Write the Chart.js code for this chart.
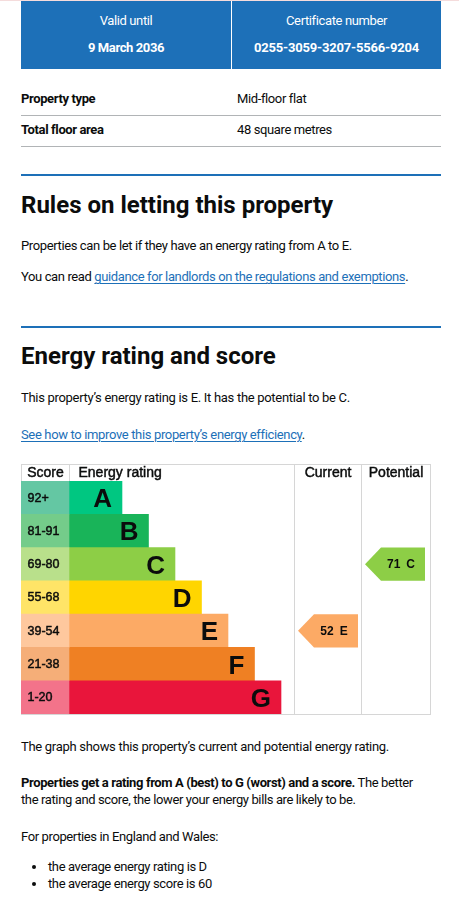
<!DOCTYPE html>
<html><head><meta charset="utf-8">
<script src="https://cdn.jsdelivr.net/npm/chart.js@4.4.1/dist/chart.umd.min.js"></script>
<style>
html,body{margin:0;padding:0;background:#fff;}
body{width:459px;height:924px;position:relative;overflow:hidden;font-family:Roboto,"Noto Sans",sans-serif;color:#0b0c0c;font-size:13px;}
.t{position:absolute;white-space:nowrap;line-height:16px;height:16px;letter-spacing:-0.38px;}
.b{font-weight:700;}
.w{color:#fff;text-align:center;}
a{color:#1d70b8;text-decoration:underline;text-decoration-thickness:1px;text-underline-offset:2px;}
.h2{position:absolute;left:21px;font-weight:700;font-size:24px;line-height:30px;height:30px;white-space:nowrap;}
.rule{position:absolute;left:21px;width:420px;height:2px;background:#1d70b8;}
.hr{position:absolute;left:21px;width:420px;height:1px;background:#b1b4b6;}
.dot{position:absolute;width:4px;height:4px;border-radius:50%;background:#0b0c0c;}
</style></head><body>
<div style="position:absolute;left:0;top:0;width:459px;height:1px;background:#f5dcdc"></div>
<div style="position:absolute;left:21px;top:1px;width:420px;height:68px;background:#1d70b8;"></div>
<div style="position:absolute;left:231px;top:1px;width:1px;height:68px;background:#fff"></div>
<div class="t w" style="left:21px;width:210px;top:13px">Valid until</div>
<div class="t w b" style="left:21px;width:210px;top:40px">9 March 2036</div>
<div class="t w" style="left:232px;width:209px;top:13px">Certificate number</div>
<div class="t w b" style="left:232px;width:209px;top:40px;letter-spacing:-0.2px">0255-3059-3207-5566-9204</div>

<div class="t b" style="left:21px;top:91px">Property type</div>
<div class="t" style="left:237px;top:91px">Mid-floor flat</div>
<div class="hr" style="top:115px"></div>
<div class="t b" style="left:21px;top:122px">Total floor area</div>
<div class="t" style="left:237px;top:122px">48 square metres</div>
<div class="hr" style="top:146px"></div>

<div class="rule" style="top:174px"></div>
<div class="h2" style="top:190px">Rules on letting this property</div>
<div class="t" style="left:21px;top:238px">Properties can be let if they have an energy rating from A to E.</div>
<div class="t" style="left:21px;top:269px">You can read <a>guidance for landlords on the regulations and exemptions</a>.</div>

<div class="rule" style="top:326px"></div>
<div class="h2" style="top:341px">Energy rating and score</div>
<div class="t" style="left:21px;top:390px;letter-spacing:-0.3px">This property’s energy rating is E. It has the potential to be C.</div>
<div class="t" style="left:21px;top:427px;letter-spacing:-0.35px"><a>See how to improve this property’s energy efficiency</a>.</div>

<div id="chartbox" style="position:absolute;left:21px;top:464px;width:410px;height:251px"><canvas id="c"></canvas></div>

<div class="t" style="left:21px;top:739px;letter-spacing:-0.3px">The graph shows this property’s current and potential energy rating.</div>
<div class="t" style="left:21px;top:775px"><span class="b">Properties get a rating from A (best) to G (worst) and a score.</span> The better</div>
<div class="t" style="left:21px;top:792px">the rating and score, the lower your energy bills are likely to be.</div>
<div class="t" style="left:21px;top:829px">For properties in England and Wales:</div>
<div class="dot" style="left:32px;top:865px"></div>
<div class="t" style="left:48px;top:859px">the average energy rating is D</div>
<div class="dot" style="left:32px;top:882px"></div>
<div class="t" style="left:48px;top:876px">the average energy score is 60</div>

<script>
const ratings = ['A','B','C','D','E','F','G'];
const scoreRanges = ['92+','81-91','69-80','55-68','39-54','21-38','1-20'];
const bandMin = [92,81,69,55,39,21,1];
const barLength = [2,3,4,5,6,7,8];
const bandColors = ['#00c781','#19b459','#8dce46','#ffd500','#fcaa65','#ef8023','#e9153b'];
const scoreColors = ['#64c7a3','#74cc8a','#b9e08b','#ffe467','#fec89e','#f5ae78','#f3738a'];
const headers = ['Score','Energy rating','Current','Potential'];
const currentScore = 52;
const potentialScore = 71;
const colEdges = [-1.81, 0, 8.5, 11.02, 13.66];
const gridColor = '#d6d6d6';
const chartFont = '"Liberation Sans", Arial, sans-serif';

function bandOf(score){ return bandMin.findIndex(m => score >= m); }

const epcPlugin = {
  id: 'epc',
  afterDatasetsDraw(chart){
    const {ctx, chartArea: a, scales: {x, y}} = chart;
    const W = chart.width;
    const e = colEdges.map(v => Math.min(Math.round(x.getPixelForValue(v)), W - 1) + 0.5);
    ctx.save();
    ctx.strokeStyle = gridColor; ctx.lineWidth = 1;
    ctx.beginPath();
    ctx.moveTo(e[0] - 0.5, 0.5); ctx.lineTo(e[4] + 0.5, 0.5);
    ctx.moveTo(e[0] - 0.5, a.bottom + 0.5); ctx.lineTo(e[4] + 0.5, a.bottom + 0.5);
    [0, 1].forEach(i => { ctx.moveTo(e[i], 0); ctx.lineTo(e[i], a.top); });
    [2, 3, 4].forEach(i => { ctx.moveTo(e[i], 0); ctx.lineTo(e[i], a.bottom + 1); });
    ctx.stroke();

    const ink = '#0b0c0c';
    ctx.fillStyle = ink; ctx.strokeStyle = ink; ctx.lineWidth = 0.45;
    function heavy(txt, tx, ty){ ctx.fillText(txt, tx, ty); ctx.strokeText(txt, tx, ty); }
    ctx.textBaseline = 'middle';
    ctx.font = '14px ' + chartFont;
    const hy = a.top / 2 + 0.5;
    ctx.textAlign = 'center'; heavy(headers[0], (e[0] + e[1]) / 2, hy);
    ctx.textAlign = 'left'; heavy(headers[1], e[1] + 9, hy);
    ctx.textAlign = 'center'; heavy(headers[2], (e[2] + e[3]) / 2, hy);
    heavy(headers[3], (e[3] + e[4]) / 2, hy);

    const rowH = (a.bottom - a.top) / ratings.length;
    ratings.forEach((r, i) => {
      const cy = y.getPixelForValue(i);
      ctx.textBaseline = 'middle';
      ctx.textAlign = 'left';
      ctx.font = '12.5px ' + chartFont;
      heavy(scoreRanges[i], e[0] + 6, cy + 0.5);
      ctx.textBaseline = 'alphabetic';
      ctx.textAlign = 'right';
      ctx.font = 'bold 26px ' + chartFont;
      ctx.fillText(r, x.getPixelForValue(barLength[i]) - 10, cy + 9.5);
    });

    function arrow(score, col){
      const i = bandOf(score);
      const cy = y.getPixelForValue(i);
      const x0 = e[col] + 3.5, tip = 16, w = 60, h = rowH;
      ctx.fillStyle = bandColors[i];
      ctx.beginPath();
      ctx.moveTo(x0, cy);
      ctx.lineTo(x0 + tip, cy - h / 2);
      ctx.lineTo(x0 + w, cy - h / 2);
      ctx.lineTo(x0 + w, cy + h / 2);
      ctx.lineTo(x0 + tip, cy + h / 2);
      ctx.closePath();
      ctx.fill();
      ctx.fillStyle = ink;
      ctx.font = 'bold 12px ' + chartFont;
      ctx.textBaseline = 'middle';
      const num = String(score), let_ = ratings[i], gap = 6;
      const tw = ctx.measureText(num).width + gap + ctx.measureText(let_).width;
      const cx = (x0 + tip + x0 + w) / 2 - 2;
      ctx.textAlign = 'left';
      ctx.fillText(num, cx - tw / 2, cy + 0.5);
      ctx.fillText(let_, cx + tw / 2 - ctx.measureText(let_).width, cy + 0.5);
    }
    arrow(currentScore, 2);
    arrow(potentialScore, 3);
    ctx.restore();
  }
};

new Chart(document.getElementById('c'), {
  type: 'bar',
  data: {
    labels: ratings,
    datasets: [
      {data: ratings.map(() => [colEdges[0], 0]), backgroundColor: scoreColors, grouped: false, barPercentage: 1, categoryPercentage: 1, borderWidth: 0},
      {data: barLength.map(v => [0, v]), backgroundColor: bandColors, grouped: false, barPercentage: 1, categoryPercentage: 1, borderWidth: 0}
    ]
  },
  options: {
    indexAxis: 'y',
    responsive: true,
    maintainAspectRatio: false,
    animation: false,
    events: [],
    layout: {padding: {top: 17, bottom: 1, left: 0, right: 0}},
    plugins: {legend: {display: false}, tooltip: {enabled: false}},
    scales: {
      x: {type: 'linear', min: colEdges[0], max: colEdges[4], display: false},
      y: {type: 'category', display: false, offset: true}
    }
  },
  plugins: [epcPlugin]
});
</script>
</body></html>
